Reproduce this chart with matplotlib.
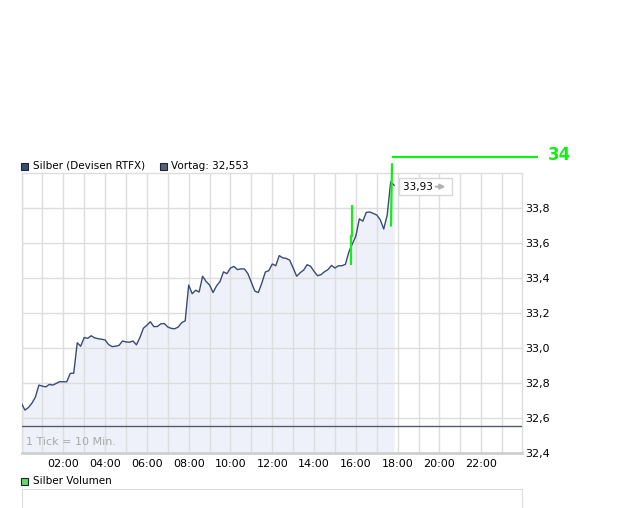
import matplotlib.pyplot as plt
import numpy as np
from matplotlib.patches import Rectangle
from matplotlib.transforms import offset_copy

# Silber intraday, 1 tick = 10 min, starting 00:00
prices = [
    32.683, 32.645, 32.660, 32.685, 32.720, 32.788, 32.782, 32.778, 32.792, 32.788,
    32.798, 32.808, 32.807, 32.807, 32.855, 32.856, 33.030, 33.010, 33.060, 33.055,
    33.070, 33.058, 33.053, 33.050, 33.046, 33.020, 33.008, 33.010, 33.015, 33.040,
    33.035, 33.033, 33.040, 33.018, 33.060, 33.113, 33.130, 33.150, 33.122, 33.123,
    33.138, 33.140, 33.120, 33.112, 33.110, 33.120, 33.145, 33.155, 33.360, 33.310,
    33.330, 33.320, 33.410, 33.380, 33.360, 33.317, 33.355, 33.380, 33.435, 33.425,
    33.457, 33.466, 33.448, 33.452, 33.452, 33.425, 33.375, 33.325, 33.317, 33.371,
    33.434, 33.442, 33.480, 33.470, 33.528, 33.515, 33.512, 33.502, 33.457, 33.410,
    33.430, 33.445, 33.476, 33.467, 33.438, 33.413, 33.419, 33.436, 33.448, 33.472,
    33.457, 33.470, 33.470, 33.478, 33.550, 33.595, 33.640, 33.738, 33.725, 33.775,
    33.777, 33.769, 33.760, 33.733, 33.680, 33.760, 33.950, 33.930,
]
vortag = 32.553
last_price = 33.93

y_ticks = [32.4, 32.6, 32.8, 33.0, 33.2, 33.4, 33.6, 33.8]
x_hours = list(range(0, 24))
x_labels = ['%02d:00' % h if (h % 2 == 0 and h > 0) else '' for h in x_hours]

# hand-drawn green trend marks (hours, price)
mark1_x = [15.82, 15.82, 15.77, 15.77]
mark1_y = [33.82, 33.64, 33.64, 33.475]
mark2_x = [17.73, 17.68]
mark2_y = [34.056, 33.694]
mark3_x = [17.73, 24.71]
mark3_y = [34.093, 34.093]
target_label = '34'

W, H = 643, 508
line_col = '#3b4a76'
fill_col = '#eef1f9'
grid_col = '#dddddd'
green = '#14ee14'

plt.rcParams['font.family'] = ['DejaVu Sans']
fig = plt.figure(figsize=(W / 100, H / 100), dpi=100)
fig.patch.set_facecolor('white')

def fbox(x0, y0, x1, y1):
    # pixel box (top-left origin) -> figure fraction rect
    return [x0 / W, 1 - y1 / H, (x1 - x0) / W, (y1 - y0) / H]

ax = fig.add_axes(fbox(21.5, 173, 522, 453))
t = np.arange(len(prices)) / 6.0

# fill sits under the grid, line above it
ax.fill_between(t, prices, 32.4, color=fill_col, lw=0, zorder=0.2)
ax.plot(t, prices, color=line_col, lw=1.0, zorder=3)
ax.axhline(vortag, color='#555b68', lw=1.0, zorder=3)

ax.set_xlim(0, 23.95)
ax.set_ylim(32.4, 34.0)
ax.set_xticks(x_hours)
ax.set_xticklabels(x_labels)
ax.set_yticks(y_ticks)
ax.set_yticklabels([('%.1f' % v).replace('.', ',') for v in y_ticks])
ax.yaxis.tick_right()
ax.tick_params(length=0, labelsize=8, colors='black')
ax.tick_params(axis='x', pad=4)
ax.tick_params(axis='y', pad=2)
ax.grid(True, color=grid_col, lw=1.0)
ax.set_axisbelow(True)
for s in ax.spines.values():
    s.set_color(grid_col)
    s.set_linewidth(1.0)
ax.spines['bottom'].set_color('#cfcfcf')
ax.spines['bottom'].set_linewidth(2.0)

ax.text(0.009, 0.02, '1 Tick = 10 Min.', transform=ax.transAxes,
        fontsize=8, color='#a8a8a8', va='bottom', ha='left')

# last price box with small grey arrow
ax.annotate('33,93     ', xy=(t[-1], last_price), xytext=(6, -1), textcoords='offset points',
            fontsize=7.5, va='center', ha='left', zorder=6,
            bbox=dict(boxstyle='square,pad=0.35', fc='white', ec='#d8d8d8', lw=1))
tr_a = offset_copy(ax.transData, fig=fig, x=30, y=-1, units='points')
tr_b = offset_copy(ax.transData, fig=fig, x=37, y=-1, units='points')
ax.annotate('', xy=(t[-1], last_price), xycoords=tr_b,
            xytext=(t[-1], last_price), textcoords=tr_a, zorder=7,
            arrowprops=dict(arrowstyle='-|>', color='#b4b4b4', lw=1.6,
                            mutation_scale=7, shrinkA=0, shrinkB=0))

# green marks
for xs, ys in [(mark1_x, mark1_y), (mark2_x, mark2_y), (mark3_x, mark3_y)]:
    ax.plot(xs, ys, color=green, lw=1.6, clip_on=False, zorder=5,
            solid_capstyle='butt')
ax.text(25.19, 34.10, target_label, color=green, fontsize=12, fontweight='bold',
        va='center', ha='left', clip_on=False)

# legend row
fig.patches.append(Rectangle((21 / W, 1 - 170 / H), 7 / W, 7 / H, transform=fig.transFigure,
                             fc='#3d4a72', ec='#1e2438', lw=0.8))
fig.text(33 / W, 1 - 166 / H, 'Silber (Devisen RTFX)', fontsize=7.5, va='center', ha='left')
fig.patches.append(Rectangle((160 / W, 1 - 170 / H), 7 / W, 7 / H, transform=fig.transFigure,
                             fc='#5b6072', ec='#1e2438', lw=0.8))
fig.text(171 / W, 1 - 166 / H, 'Vortag: 32,553', fontsize=7.5, va='center', ha='left')

# volume panel
fig.patches.append(Rectangle((21 / W, 1 - 485 / H), 7 / W, 7 / H, transform=fig.transFigure,
                             fc='#66d866', ec='#1e2438', lw=0.8))
fig.text(33 / W, 1 - 481 / H, 'Silber Volumen', fontsize=7.5, va='center', ha='left')
vax = fig.add_axes(fbox(21.5, 489, 522, 530))
vax.set_xticks([])
vax.set_yticks([])
for s in vax.spines.values():
    s.set_color(grid_col)

fig.savefig('out.png', dpi=100, facecolor='white')
